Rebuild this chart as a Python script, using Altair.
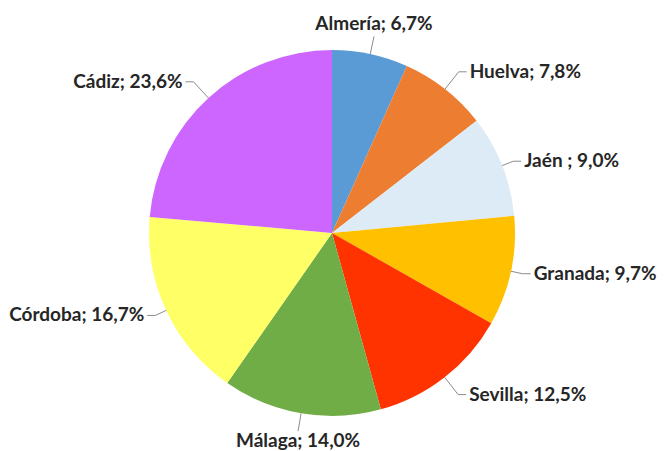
import math
import altair as alt
import pandas as pd

names = ["Almería", "Huelva", "Jaén ", "Granada", "Sevilla", "Málaga", "Córdoba", "Cádiz"]
values = [6.7, 7.8, 9.0, 9.7, 12.5, 14.0, 16.7, 23.6]
colors = ["#5B9BD5", "#ED7D31", "#DDEBF7", "#FFC000", "#FF3300", "#70AD47", "#FFFF66", "#CC66FF"]

W, H = 653, 443
CX, CY, R = 324, 225, 183
HOR, GAP = 8, 3

df = pd.DataFrame({"name": names, "value": values, "idx": range(len(names))})
total = df["value"].sum()
df["mid"] = 2 * math.pi * (df["value"].cumsum() - df["value"] / 2) / total
df["label"] = [f"{n}; {str(v).replace('.', ',')}%" for n, v in zip(names, values)]

line_rows, text_rows = [], []
for _, r in df.iterrows():
    s, c = math.sin(r["mid"]), math.cos(r["mid"])
    if abs(s) <= 0.4:
        ext = 18
    elif abs(s) > 0.85:
        ext = 12
    else:
        ext = 22
    x0, y0 = CX + R * s, CY - R * c
    x1, y1 = CX + (R + ext) * s, CY - (R + ext) * c
    if abs(s) > 0.4:
        side = 1 if s > 0 else -1
        x2, y2 = x1 + side * HOR, y1
        tx, ty = x2 + side * GAP, y2
        align, base = ("left" if side > 0 else "right"), "middle"
    else:
        x2, y2 = x1, y1
        tx = x1
        if c > 0:
            ty, base = y1 - 2, "bottom"
        else:
            ty, base = y1 + 1, "top"
        align = "center"
    for k, (px, py) in enumerate([(x0, y0), (x1, y1), (x2, y2)]):
        line_rows.append({"name": r["name"], "k": k, "px": px, "py": py})
    text_rows.append({"label": r["label"], "tx": tx, "ty": ty, "align": align, "base": base})

lines = pd.DataFrame(line_rows)
texts = pd.DataFrame(text_rows)

pie = alt.Chart(df).mark_arc(outerRadius=R).encode(
    theta=alt.Theta("value:Q", stack=True),
    color=alt.Color("name:N", scale=alt.Scale(domain=names, range=colors), legend=None),
    order=alt.Order("idx:Q"),
    x=alt.value(CX),
    y=alt.value(CY),
)

leaders = alt.Chart(lines).mark_line(color="#8c8c8c", strokeWidth=1).encode(
    x=alt.X("px:Q", scale=None, axis=None),
    y=alt.Y("py:Q", scale=None, axis=None),
    detail="name:N",
    order="k:Q",
)

layers = [pie, leaders]
for (align, base), sub in texts.groupby(["align", "base"]):
    layers.append(
        alt.Chart(sub).mark_text(
            align=align, baseline=base, font="Lato", fontWeight="bold",
            fontSize=19, color="#262626"
        ).encode(
            x=alt.X("tx:Q", scale=None, axis=None),
            y=alt.Y("ty:Q", scale=None, axis=None),
            text="label:N",
        )
    )

chart = alt.layer(*layers).properties(
    width=W, height=H, padding=0, autosize=alt.AutoSizeParams(type="none")
).configure_view(stroke=None)

chart.save("out.html", embed_options={"renderer": "svg", "actions": False})
